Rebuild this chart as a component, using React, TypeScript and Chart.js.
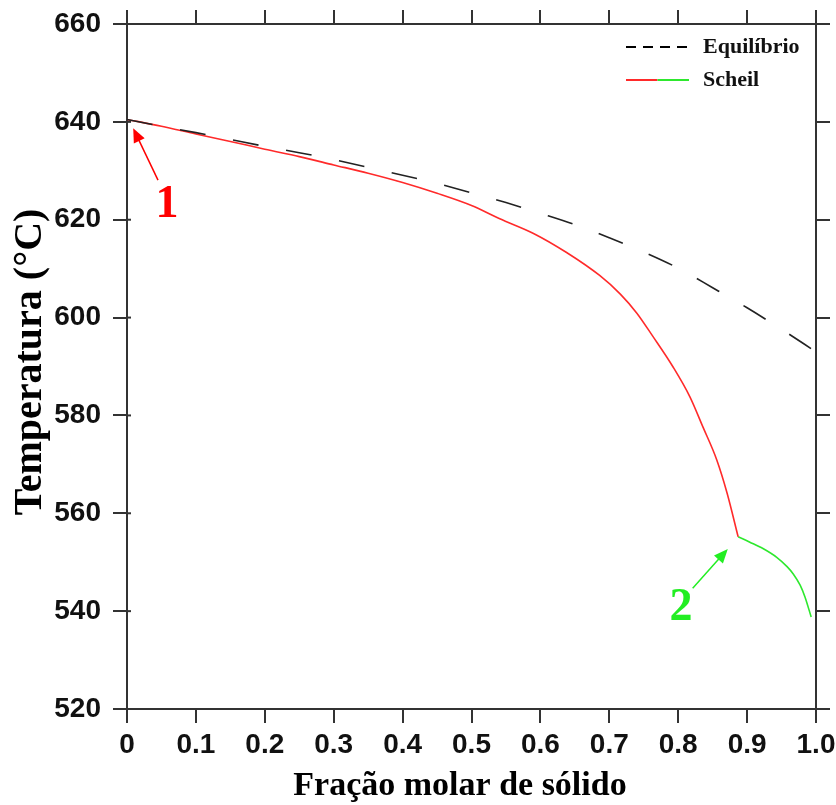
import React, { useEffect, useRef } from "react";
import { Chart, registerables } from "chart.js";

Chart.register(...registerables);

// ---- data ----
const xTicks = [0, 0.1, 0.2, 0.3, 0.4, 0.5, 0.6, 0.7, 0.8, 0.9, 1.0];
const yTicks = [520, 540, 560, 580, 600, 620, 640, 660];

const equilibrioX = [0, 0.05, 0.1, 0.15, 0.2, 0.25, 0.3, 0.35, 0.4, 0.45, 0.5, 0.55, 0.6, 0.65, 0.7, 0.75, 0.8, 0.85, 0.9, 0.95, 1.0];
const equilibrioT = [640.5, 639.1, 637.8, 636.4, 635.0, 633.7, 632.3, 630.7, 629.1, 627.4, 625.5, 623.5, 621.3, 619.0, 616.3, 613.4, 610.1, 606.1, 602.0, 597.6, 593.0];

const scheilRedX = [0, 0.05, 0.1, 0.15, 0.2, 0.25, 0.3, 0.35, 0.4, 0.45, 0.5, 0.541, 0.59, 0.638, 0.686, 0.716, 0.74, 0.763, 0.793, 0.817, 0.836, 0.856, 0.871, 0.887];
const scheilRedT = [640.5, 639.1, 637.5, 636.0, 634.4, 632.9, 631.2, 629.5, 627.6, 625.4, 622.9, 620.2, 617.2, 613.3, 608.6, 604.8, 600.9, 596.2, 589.8, 583.8, 577.6, 570.9, 564.1, 555.2];

const scheilGreenX = [0.887, 0.904, 0.923, 0.943, 0.958, 0.967, 0.977, 0.984, 0.993];
const scheilGreenT = [555.2, 554.1, 552.8, 551.0, 549.1, 547.6, 545.3, 542.9, 538.8];

const legendLabels = ["Equilíbrio", "Scheil"];
const xTitle = "Fração molar de sólido";
const yTitle = "Temperatura (°C)";

// annotations in data coordinates
const annotation1 = { label: "1", tail: [0.045, 628.1], tip: [0.009, 638.7], at: [0.058, 623.0] };
const annotation2 = { label: "2", tail: [0.821, 544.7], tip: [0.872, 552.7], at: [0.804, 540.6] };

const RED = "#ff2a2a";
const GREEN = "#2ee82e";
const AXIS = "#333333";

const toPts = (xs: number[], ys: number[]) => xs.map((x, i) => ({ x, y: ys[i] }));

const overlayPlugin = {
  id: "overlay",
  afterDraw(chart: any) {
    const ctx = chart.ctx;
    const xs = chart.scales.x;
    const ys = chart.scales.y;
    const area = chart.chartArea;
    ctx.save();

    const drawAnn = (a: any, color: string) => {
      const tx = xs.getPixelForValue(a.tail[0]);
      const ty = ys.getPixelForValue(a.tail[1]);
      const hx = xs.getPixelForValue(a.tip[0]);
      const hy = ys.getPixelForValue(a.tip[1]);
      const ang = Math.atan2(hy - ty, hx - tx);
      const headLen = 14;
      const headW = 6;
      ctx.strokeStyle = color;
      ctx.fillStyle = color;
      ctx.lineWidth = 1.5;
      ctx.beginPath();
      ctx.moveTo(tx, ty);
      ctx.lineTo(hx - Math.cos(ang) * headLen * 0.8, hy - Math.sin(ang) * headLen * 0.8);
      ctx.stroke();
      ctx.beginPath();
      ctx.moveTo(hx, hy);
      ctx.lineTo(hx - Math.cos(ang) * headLen + Math.sin(ang) * headW, hy - Math.sin(ang) * headLen - Math.cos(ang) * headW);
      ctx.lineTo(hx - Math.cos(ang) * headLen - Math.sin(ang) * headW, hy - Math.sin(ang) * headLen + Math.cos(ang) * headW);
      ctx.closePath();
      ctx.fill();
      ctx.font = "bold 46px 'Liberation Serif', 'Times New Roman', serif";
      ctx.textAlign = "center";
      ctx.textBaseline = "middle";
      ctx.fillText(a.label, xs.getPixelForValue(a.at[0]), ys.getPixelForValue(a.at[1]));
    };
    drawAnn(annotation1, "#ff0000");
    drawAnn(annotation2, "#22ee22");

    // legend
    const lx0 = area.right - 190;
    const lx1 = lx0 + 63;
    const ly1 = area.top + 23;
    const ly2 = area.top + 56;
    ctx.lineWidth = 2;
    ctx.strokeStyle = "#000";
    ctx.setLineDash([10, 7]);
    ctx.beginPath();
    ctx.moveTo(lx0, ly1);
    ctx.lineTo(lx1, ly1);
    ctx.stroke();
    ctx.setLineDash([]);
    ctx.strokeStyle = RED;
    ctx.beginPath();
    ctx.moveTo(lx0, ly2);
    ctx.lineTo((lx0 + lx1) / 2, ly2);
    ctx.stroke();
    ctx.strokeStyle = GREEN;
    ctx.beginPath();
    ctx.moveTo((lx0 + lx1) / 2, ly2);
    ctx.lineTo(lx1, ly2);
    ctx.stroke();
    ctx.fillStyle = "#111";
    ctx.font = "bold 22px 'Liberation Serif', 'Times New Roman', serif";
    ctx.textAlign = "left";
    ctx.textBaseline = "middle";
    ctx.fillText(legendLabels[0], lx1 + 14, ly1);
    ctx.fillText(legendLabels[1], lx1 + 14, ly2);

    // small inward tick stubs on the left axis (as in the reference)
    ctx.strokeStyle = AXIS;
    ctx.lineWidth = 2;
    yTicks.forEach((v) => {
      const py = ys.getPixelForValue(v);
      ctx.beginPath();
      ctx.moveTo(area.left, py);
      ctx.lineTo(area.left + 4, py);
      ctx.stroke();
    });

    // axis titles
    ctx.fillStyle = "#000";
    ctx.textAlign = "center";
    ctx.textBaseline = "alphabetic";
    ctx.font = "bold 34px 'Liberation Serif', 'Times New Roman', serif";
    ctx.fillText(xTitle, 460, 795);
    ctx.save();
    ctx.font = "bold 40px 'Liberation Serif', 'Times New Roman', serif";
    ctx.translate(41, 362);
    ctx.rotate(-Math.PI / 2);
    ctx.fillText(yTitle, 0, 0);
    ctx.restore();

    ctx.restore();
  },
};

export default function App() {
  const ref = useRef<HTMLCanvasElement | null>(null);
  useEffect(() => {
    document.body.style.margin = "0";
    const canvas = ref.current!;
    const tickFont = { family: "'Liberation Sans', Arial, sans-serif", size: 28, weight: "bold" as const };
    const gridOpts = {
      drawOnChartArea: false,
      drawTicks: true,
      tickLength: 14,
      color: AXIS,
      lineWidth: 2,
    };
    const noPad = (s: any) => {
      s.paddingLeft = 0;
      s.paddingRight = 0;
      s.paddingTop = 0;
      s.paddingBottom = 0;
    };
    const chart = new Chart(canvas, {
      type: "scatter",
      data: {
        datasets: [
          {
            label: legendLabels[0],
            data: toPts(equilibrioX, equilibrioT),
            showLine: true,
            borderColor: "#222",
            borderWidth: 1.6,
            borderDash: [26, 28],
            pointRadius: 0,
            cubicInterpolationMode: "monotone",
          },
          {
            label: legendLabels[1],
            data: toPts(scheilRedX, scheilRedT),
            showLine: true,
            borderColor: RED,
            borderWidth: 1.6,
            pointRadius: 0,
            cubicInterpolationMode: "monotone",
          },
          {
            label: legendLabels[1] + " (2)",
            data: toPts(scheilGreenX, scheilGreenT),
            showLine: true,
            borderColor: GREEN,
            borderWidth: 1.6,
            pointRadius: 0,
            cubicInterpolationMode: "monotone",
          },
        ],
      },
      options: {
        responsive: false,
        animation: false,
        layout: { padding: 0 },
        plugins: { legend: { display: false }, tooltip: { enabled: false } },
        scales: {
          x: {
            type: "linear",
            position: "bottom",
            min: 0,
            max: 1,
            afterBuildTicks: (s: any) => {
              s.ticks = xTicks.map((v) => ({ value: v }));
            },
            afterFit: (s: any) => {
              s.height = 96;
              noPad(s);
            },
            ticks: {
              font: tickFont,
              color: "#111",
              padding: 5,
              maxRotation: 0,
              autoSkip: false,
              callback: (v: any) => (v === 0 ? "0" : Number(v).toFixed(1)),
            },
            grid: gridOpts,
            border: { display: true, color: AXIS, width: 2 },
          },
          x2: {
            type: "linear",
            position: "top",
            min: 0,
            max: 1,
            afterBuildTicks: (s: any) => {
              s.ticks = xTicks.map((v) => ({ value: v }));
            },
            afterFit: (s: any) => {
              s.height = 24;
              noPad(s);
            },
            ticks: { display: false },
            grid: gridOpts,
            border: { display: true, color: AXIS, width: 2 },
          },
          y: {
            type: "linear",
            position: "left",
            min: 520,
            max: 660,
            afterBuildTicks: (s: any) => {
              s.ticks = yTicks.map((v) => ({ value: v }));
            },
            afterFit: (s: any) => {
              s.width = 127;
              noPad(s);
            },
            ticks: { font: tickFont, color: "#111", padding: 12 },
            grid: gridOpts,
            border: { display: true, color: AXIS, width: 2 },
          },
          y2: {
            type: "linear",
            position: "right",
            min: 520,
            max: 660,
            afterBuildTicks: (s: any) => {
              s.ticks = yTicks.map((v) => ({ value: v }));
            },
            afterFit: (s: any) => {
              s.width = 20;
              noPad(s);
            },
            ticks: { display: false },
            grid: gridOpts,
            border: { display: true, color: AXIS, width: 2 },
          },
        },
      },
      plugins: [overlayPlugin],
    });
    return () => chart.destroy();
  }, []);
  return <canvas ref={ref} width={836} height={805} style={{ display: "block" }} />;
}
